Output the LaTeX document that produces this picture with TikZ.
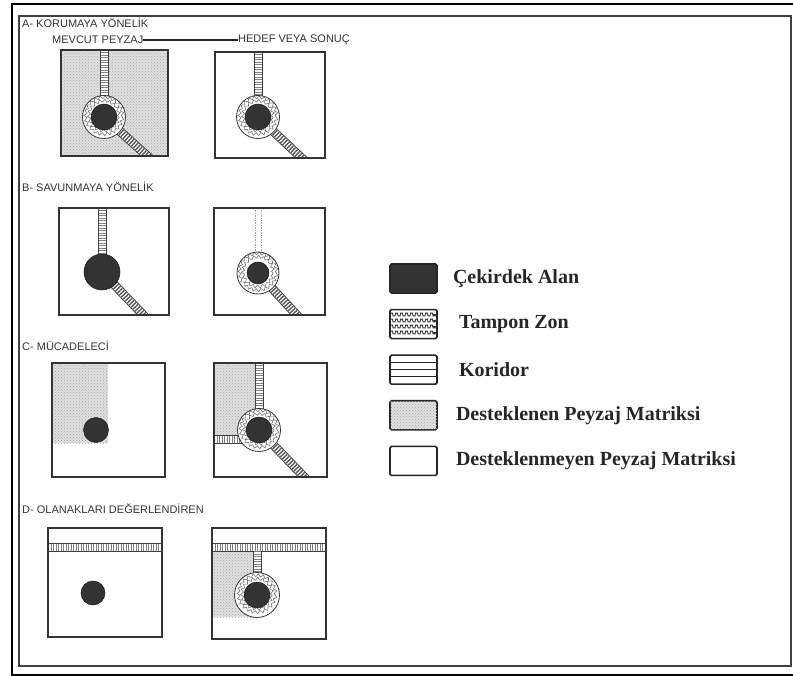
\documentclass[tikz,border=0pt]{standalone}
\usepackage{fontspec}
\setmainfont{Liberation Serif}
\setsansfont{Liberation Sans}
\usetikzlibrary{positioning,patterns,decorations.pathmorphing}

\begin{document}
\begin{tikzpicture}[x=1pt, y=-1pt, node distance=15pt,
  panel/.style 2 args={minimum width=#1, minimum height=#2, inner sep=0pt, outer sep=0pt},
  frame/.style={draw=black!80, line width=1.6pt},
  supp/.style={fill=black!12, postaction={pattern=crosshatch dots, pattern color=black!35}},
  corr/.style={preaction={draw=black!75, solid, line width=9pt}, preaction={draw=white, solid, line width=7pt}, draw=black!50, line width=7pt, dash pattern=on 0.8pt off 1.7pt},
  rope/.style={preaction={draw=black!75, solid, line width=9pt}, preaction={draw=white, solid, line width=7pt}, draw=black!65, line width=7pt, dash pattern=on 1.4pt off 1.4pt},
  ghost/.style={draw=black!35, densely dotted, line width=0.7pt},
  squig/.style={draw=black!55, line width=0.6pt, decorate, decoration={snake, amplitude=1.5pt, segment length=5pt}},
  buffer/.style={circle, draw=black!80, line width=0.8pt, fill=white, minimum size=43pt, inner sep=0pt,
    path picture={\draw[squig] (path picture bounding box.center) circle (15pt);
      \draw[squig] (path picture bounding box.center) circle (18.5pt);}},
  core/.style={circle, fill=black!80, draw=black!90, line width=0.5pt, minimum size=26pt, inner sep=0pt},
  lab/.style={font=\sffamily\fontsize{11}{13}\selectfont, text=black!80, inner sep=0pt, anchor=west},
  legbox/.style={draw=black!85, line width=1.6pt, rounded corners=1.5pt, minimum width=47pt, minimum height=29pt, inner sep=0pt},
  legtext/.style={font=\bfseries\fontsize{20}{23}\selectfont, text=black!85, inner sep=0pt}]
\useasboundingbox (0,0) rectangle (793,676);
\clip (0,0) rectangle (793,676);
\draw[line width=2.5pt] (12,4) rectangle (805,675);
\draw[line width=1.2pt, black!75] (19,16) rectangle (791,666);

\node[lab] (ta) at (22,23) {A- KORUMAYA YÖNELİK};
\node[lab] (mevcut) at (52,40) {MEVCUT PEYZAJ};
\node[lab] (hedef) at (238,40) {HEDEF VEYA SONUÇ};
\draw[line width=2pt, black!85] (mevcut.east) -- (hedef.west);
\node[lab] (tb) at (22,187) {B- SAVUNMAYA YÖNELİK};
\node[lab] (tc) at (22,346) {C- MÜCADELECİ};
\node[lab] (td) at (22,509) {D- OLANAKLARI DEĞERLENDİREN};

\node[panel={107pt}{106pt}, supp] (a1) at (114.5,103) {};
\node[panel={110pt}{106pt}] (a2) at (270,105) {};
\node[panel={110pt}{107pt}] (b1) at (114,261.5) {};
\node[panel={111pt}{107pt}] (b2) at (269.5,261.5) {};
\node[panel={113pt}{114pt}] (c1) at (108.5,420) {};
\node[panel={113pt}{114pt}] (c2) at (270.5,420) {};
\node[panel={114pt}{109pt}] (d1) at (105,582.5) {};
\node[panel={114pt}{111pt}] (d2) at (269,583.5) {};

\coordinate (a1c) at (104,117);
\coordinate (a2c) at (258,117);
\coordinate (b1c) at (102,272);
\coordinate (b2c) at (258,273);
\coordinate (c1c) at (96,430);
\coordinate (c2c) at (259,430);
\coordinate (d1c) at (93,593);
\coordinate (d2c) at (257,595);

\begin{scope}
\clip (a1.south west) rectangle (a1.north east);
\draw[corr] (a1c |- a1.north) -- (a1c);
\draw[rope] (a1c) -- ++(50,45);
\node[buffer] (a1b) at (a1c) {};
\node[core] (a1k) at (a1c) {};
\end{scope}

\begin{scope}
\clip (a2.south west) rectangle (a2.north east);
\draw[corr] (a2c |- a2.north) -- (a2c);
\draw[rope] (a2c) -- ++(50,47);
\node[buffer] (a2b) at (a2c) {};
\node[core] (a2k) at (a2c) {};
\end{scope}

\begin{scope}
\clip (b1.south west) rectangle (b1.north east);
\draw[corr] (b1c |- b1.north) -- (b1c);
\draw[rope] (b1c) -- ++(50,52);
\node[core, minimum size=36pt] (b1k) at (b1c) {};
\end{scope}

\begin{scope}
\clip (b2.south west) rectangle (b2.north east);
\draw[ghost] ([xshift=-3pt]b2c |- b2.north) -- ([xshift=-3pt]b2c);
\draw[ghost] ([xshift=3pt]b2c |- b2.north) -- ([xshift=3pt]b2c);
\draw[rope] (b2c) -- ++(48,52);
\node[buffer, minimum size=42pt] (b2b) at (b2c) {};
\node[core, minimum size=22pt] (b2k) at (b2c) {};
\end{scope}

\begin{scope}
\clip (c1.south west) rectangle (c1.north east);
\path[supp] (c1.north west) rectangle (108,443);
\node[core, minimum size=25pt] (c1k) at (c1c) {};
\end{scope}

\begin{scope}
\clip (c2.south west) rectangle (c2.north east);
\path[supp] (c2.north west) rectangle (255,435);
\draw[corr] (c2c |- c2.north) -- (c2c);
\draw[corr] (c2.west |- 0,439) -- (c2c |- 0,439);
\draw[rope] (c2c) -- ++(50,52);
\node[buffer] (c2b) at (c2c) {};
\node[core] (c2k) at (c2c) {};
\end{scope}

\begin{scope}
\clip (d1.south west) rectangle (d1.north east);
\draw[corr] (d1.west |- 0,547) -- (d1.east |- 0,547);
\node[core, minimum size=24pt] (d1k) at (d1c) {};
\end{scope}

\begin{scope}
\clip (d2.south west) rectangle (d2.north east);
\path[supp] (d2.west |- 0,552) rectangle (253,617);
\draw[corr] (d2.west |- 0,547) -- (d2.east |- 0,547);
\draw[corr] (d2c |- 0,551) -- (d2c);
\node[buffer, minimum size=45pt] (d2b) at (d2c) {};
\node[core] (d2k) at (d2c) {};
\end{scope}

\foreach \p in {a1,a2,b1,b2,c1,c2,d1,d2}
  \draw[frame] (\p.south west) rectangle (\p.north east);

\node[legbox, fill=black!80] (lcore) at (413.5,278.5) {};
\node[legbox, path picture={\foreach \k in {1,...,4}
    \draw[squig, draw=black!80, line width=0.8pt] ([yshift={-\k*6pt+1pt}]path picture bounding box.north west) -- ([yshift={-\k*6pt+1pt}]path picture bounding box.north east);}] (lbuf) [below=of lcore] {};
\node[legbox, path picture={\foreach \k in {1,2,3}
    \draw[black!85, line width=1pt] ([yshift={-\k*7.25pt}]path picture bounding box.north west) -- ([yshift={-\k*7.25pt}]path picture bounding box.north east);}] (lcor) [below=of lbuf] {};
\node[legbox, supp] (lsup) [below=of lcor] {};
\node[legbox] (luns) [below=of lsup] {};

\node[legtext] (tcore) [right=15pt of lcore] {Çekirdek Alan};
\node[legtext] (tbuf) [right=21pt of lbuf] {Tampon Zon};
\node[legtext] (tcor) [right=21pt of lcor] {Koridor};
\node[legtext] (tsup) [right=18pt of lsup] {Desteklenen Peyzaj Matriksi};
\node[legtext] (tuns) [right=18pt of luns] {Desteklenmeyen Peyzaj Matriksi};
\end{tikzpicture}
\end{document}
